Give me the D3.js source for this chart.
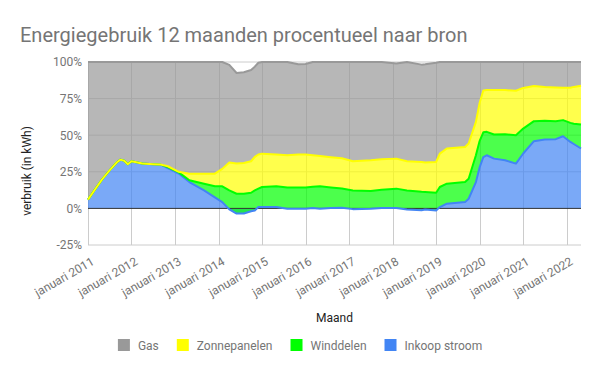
<!DOCTYPE html>
<html>
<head>
<meta charset="utf-8">
<script src="https://cdn.jsdelivr.net/npm/d3@7/dist/d3.min.js"></script>
<style>
  body { margin: 0; background: #fff; }
  svg { font-family: Roboto, "Noto Sans", sans-serif; display: block; }
</style>
</head>
<body>
<svg id="chart"></svg>
<script>
// months (yyyy-mm) and share per source in %
const months = ["2011-01","2011-03","2011-05","2011-07","2011-09","2011-10","2011-11","2011-12","2012-01","2012-04","2012-07","2012-09","2012-11","2013-02","2013-05","2013-09","2013-12","2014-02","2014-04","2014-06","2014-08","2014-10","2014-11","2014-12","2015-01","2015-05","2015-08","2015-11","2016-01","2016-03","2016-05","2016-08","2016-11","2017-02","2017-07","2017-10","2018-02","2018-05","2018-09","2018-10","2019-01","2019-02","2019-04","2019-09","2019-10","2019-12","2020-01","2020-02","2020-03","2020-05","2020-08","2020-11","2021-01","2021-04","2021-07","2021-10","2021-12","2022-02","2022-03","2022-05"];
const inkoop = [6,13,20,26,31.5,33.3,32.6,30.2,32.2,30.6,30.2,29.9,27.6,23.8,18,12.3,7.5,4.3,-0.7,-3.5,-3.5,-2,-1.4,0.9,1,0.9,-0.2,-0.2,-0.2,0.3,-0.2,0.3,0.4,-0.5,-0.2,0.2,0.2,-0.7,-1.2,-0.7,-1.4,0.9,3.2,4.3,6.6,18,28,35,36.3,34,32.9,30.6,37.5,45.9,47,47.3,49.3,45.4,44,40.9];
const wind = [0,0,0,0,0,0,0,0,0,0,0,0,0.6,0.8,1.2,4.6,7.6,10.8,13,13.5,13.5,12.7,13.7,12.6,13.6,14.2,14.4,14.4,14.5,14.5,15.3,14,13.2,12.8,12.1,12.6,13.3,13,12.5,11.9,12.1,13.7,13.7,13.7,13.7,18.3,18,17,16,16.5,17.8,19.4,17,13.7,12.8,12.3,11,13,13.8,16.4];
const zon = [0,0,0,0,0,0,0,0,0,0,0,0.1,0.6,0.4,4.5,6.8,8.6,11.9,19,20.6,21,21.5,22.9,23.3,22.8,21.7,22.1,22.6,22.5,21.5,20.7,20.7,20.7,19.9,21,20.7,20.5,19.9,20.4,20.1,21,22.8,24,24,24,22.8,26,28.5,28.5,30.3,30.1,30.4,27.8,24,23.2,23,22.1,24,25.2,26.5];
const gas = [94,87,80,74,68.5,66.7,67.4,69.8,67.8,69.4,69.8,70,71.2,75,76.3,76.3,76.3,73,66.7,61.9,62,62.3,61.6,62.7,62.6,63.2,63.7,61.6,61.8,63.7,64.2,65,65.7,67.8,67.1,66.5,65,67.8,66.5,67.1,67.8,62.6,59.1,58,55.7,40.9,28,19.5,19.2,19.2,19.2,19.6,17.7,16.4,17,17.4,17.6,17.6,17,16.2];

const yTicks = [-25, 0, 25, 50, 75, 100];
const legendNames = ["Gas", "Zonnepanelen", "Winddelen", "Inkoop stroom"];

const keys = ["inkoop", "wind", "zon", "gas"];
const colors = {inkoop: "#4285f4", wind: "#00ff00", zon: "#ffff00", gas: "#999999"};
const legendKeys = ["gas", "zon", "wind", "inkoop"];

const [w, h] = [600, 371];
const svg = d3.select("#chart").attr("width", w).attr("height", h);

const parse = d3.timeParse("%Y-%m");
const rows = months.map((m, i) => ({
  date: parse(m), inkoop: inkoop[i], wind: wind[i], zon: zon[i], gas: gas[i]
}));

const x = d3.scaleTime().domain([parse("2011-01"), parse("2022-05")]).range([88, 581]);
const y = d3.scaleLinear().domain([-25, 100]).range([245, 62]);

// title
svg.append("text").attr("x", 20).attr("y", 42)
  .attr("font-size", 20).attr("fill", "#757575")
  .text("Energiegebruik 12 maanden procentueel naar bron");

// gridlines
const grid = svg.append("g");
grid.selectAll(".hg").data(yTicks.filter(d => d !== 0)).enter().append("line")
  .attr("x1", 88).attr("x2", 581).attr("y1", d => y(d)).attr("y2", d => y(d))
  .attr("stroke", "#cccccc").attr("stroke-width", 1);
const years = x.ticks(d3.timeYear.every(1));
grid.selectAll(".vg").data(years).enter().append("line")
  .attr("x1", d => Math.round(x(d)) + 0.5).attr("x2", d => Math.round(x(d)) + 0.5)
  .attr("y1", y(100)).attr("y2", y(-25))
  .attr("stroke", "#cccccc").attr("stroke-width", 1);

// stacked areas
const stack = d3.stack().keys(keys).offset(d3.stackOffsetNone);
const series = stack(rows);

const area = d3.area().x(d => x(d.data.date)).y0(d => y(d[0])).y1(d => y(d[1]));
const line = d3.line().x(d => x(d.data.date)).y(d => y(d[1]));

svg.append("g").selectAll("path").data(series).enter().append("path")
  .attr("d", area).attr("fill", d => colors[d.key]).attr("fill-opacity", 0.7);

// baseline at 0
svg.append("line").attr("x1", 88).attr("x2", 581).attr("y1", y(0)).attr("y2", y(0))
  .attr("stroke", "#333333").attr("stroke-width", 1);

svg.append("g").selectAll("path").data(series).enter().append("path")
  .attr("d", line).attr("fill", "none").attr("stroke", d => colors[d.key])
  .attr("stroke-width", 2).attr("stroke-linejoin", "round");

// y axis labels
const yAxis = d3.axisLeft(y).tickValues(yTicks).tickSize(0).tickPadding(6).tickFormat(d => d + "%");
const gy = svg.append("g").attr("transform", "translate(88,0)").call(yAxis);
gy.select(".domain").remove();
gy.selectAll("text").attr("font-size", 12).attr("fill", "#757575").attr("font-family", "Roboto");

// x axis labels, slanted
const gx = svg.append("g");
gx.selectAll("text").data(years).enter().append("text")
  .attr("transform", d => `translate(${x(d) + 7}, 264) rotate(-30)`)
  .attr("text-anchor", "end").attr("font-size", 12).attr("fill", "#757575")
  .text(d => "januari " + d.getFullYear());

// axis titles
svg.append("text").attr("x", 334.5).attr("y", 322).attr("text-anchor", "middle")
  .attr("font-size", 12).attr("fill", "#222222").text("Maand");
svg.append("text").attr("transform", "translate(31,171) rotate(-90)")
  .attr("text-anchor", "middle").attr("font-size", 12).attr("fill", "#222222")
  .text("verbruik (in kWh)");

// legend
const lg = svg.append("g");
let lx = 0;
legendKeys.forEach((k, i) => {
  const item = lg.append("g").attr("transform", `translate(${lx},0)`);
  item.append("rect").attr("x", 0).attr("y", 339).attr("width", 12).attr("height", 12).attr("fill", colors[k]);
  const t = item.append("text").attr("x", 20).attr("y", 349.5).attr("font-size", 12)
    .attr("fill", "#757575").text(legendNames[i]);
  lx += 20 + t.node().getComputedTextLength() + 18;
});
const lw = lx - 18;
lg.attr("transform", `translate(${(300 - lw / 2).toFixed(1)},0)`);
</script>
</body>
</html>
